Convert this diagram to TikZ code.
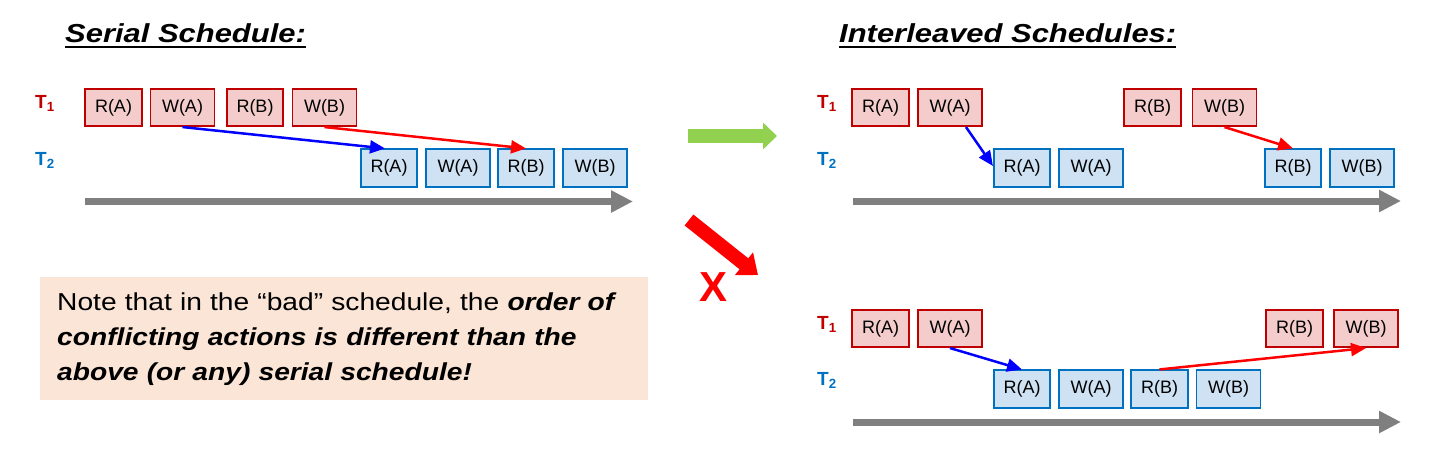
\documentclass[tikz,border=0pt]{standalone}
\usepackage{fontspec}
\setmainfont{Liberation Sans}
\newfontfamily\headfont[FakeStretch=1.19]{Liberation Sans}
\newfontfamily\notefont[FakeStretch=1.15]{Liberation Sans}
\usetikzlibrary{arrows.meta}
\definecolor{tonered}{RGB}{192,0,0}
\definecolor{tonefill}{RGB}{244,204,204}
\definecolor{ttwoblue}{RGB}{0,112,192}
\definecolor{ttwofill}{RGB}{207,226,243}
\definecolor{timegray}{RGB}{127,127,127}
\definecolor{notefill}{RGB}{251,229,214}
\definecolor{goodgreen}{RGB}{146,208,80}
\newcommand{\titleul}[1]{\leavevmode\setbox0=\hbox{#1}\rlap{\rule[-6pt]{\wd0}{1.6pt}}\box0}

\begin{document}
\begin{tikzpicture}[x=1pt,y=-1pt,
    act/.style={draw,line width=1.6pt,minimum height=37.5pt,inner sep=0pt,font=\fontsize{18}{20}\selectfont},
    rd/.style={act,minimum width=56.5pt},
    wr/.style={act,minimum width=64pt},
    tone/.style={draw=tonered,fill=tonefill},
    ttwo/.style={draw=ttwoblue,fill=ttwofill},
    tlab/.style={anchor=base west,inner sep=0pt,font=\fontsize{19}{21}\selectfont\bfseries},
    conf/.style={line width=2.5pt,-{Triangle[length=15pt,width=13pt]}},
    timeline/.style={timegray,line width=7pt,-{Triangle[length=22pt,width=21pt]}},
    heading/.style={anchor=base west,inner sep=0pt,font=\headfont\fontsize{26}{30}\selectfont\bfseries\itshape}]
  \useasboundingbox (0,0) rectangle (1448,448);

  % serial schedule
  \node[heading] (sertitle) at (65,42) {\titleul{Serial Schedule:}};
  \node[tlab,tonered] (serone) at (35,108) {T\textsubscript{1}};
  \node[tlab,ttwoblue] (sertwo) at (35,165) {T\textsubscript{2}};
  \node[rd,tone] (s1ra) at (113.5,107.5) {R(A)};
  \node[wr,tone] (s1wa) at (182.5,107.5) {W(A)};
  \node[rd,tone] (s1rb) at (255,107.5) {R(B)};
  \node[wr,tone] (s1wb) at (324.5,107.5) {W(B)};
  \node[rd,ttwo] (s2ra) at (389,168) {R(A)};
  \node[wr,ttwo] (s2wa) at (458,168) {W(A)};
  \node[rd,ttwo] (s2rb) at (526,168) {R(B)};
  \node[wr,ttwo] (s2wb) at (595,168) {W(B)};
  \draw[conf,blue] (s1wa.south) -- ([xshift=-4pt]s2ra.north);
  \draw[conf,red] (s1wb.south) -- (s2rb.north);
  \coordinate (sstart) at (85,201.5);
  \coordinate (send) at (633,201.5);
  \draw[timeline] (sstart) -- (send);

  % big arrows
  \coordinate (okfrom) at (688,136);
  \coordinate (okto) at (777,136);
  \draw[goodgreen,line width=14pt,-{Triangle[length=14pt,width=26pt]}] (okfrom) -- (okto);
  \coordinate (badfrom) at (689,220);
  \coordinate (badto) at (758,275);
  \draw[red,line width=14pt,-{Triangle[length=18pt,width=28pt]}] (badfrom) -- (badto);
  \node[red,font=\fontsize{42}{42}\selectfont\bfseries] (nox) at (713,287) {X};

  % note
  \node[fill=notefill,anchor=north west,minimum width=608pt,minimum height=123pt,inner xsep=17pt,
    text width=574pt,align=left,font=\notefont\fontsize{24.5}{35}\selectfont] (note) at (40,277)
    {Note that in the “bad” schedule, the \bfseries\itshape order of\\
     conflicting actions is different than the\\
     above (or any) serial schedule!};

  % interleaved, good
  \node[heading] (inttitle) at (839,42) {\titleul{Interleaved Schedules:}};
  \node[tlab,tonered] (goodone) at (817,108) {T\textsubscript{1}};
  \node[tlab,ttwoblue] (goodtwo) at (817,165) {T\textsubscript{2}};
  \node[rd,tone] (g1ra) at (880.5,107.5) {R(A)};
  \node[wr,tone] (g1wa) at (950,107.5) {W(A)};
  \node[rd,tone] (g1rb) at (1152.5,107.5) {R(B)};
  \node[wr,tone] (g1wb) at (1224.5,107.5) {W(B)};
  \node[rd,ttwo] (g2ra) at (1022,168) {R(A)};
  \node[wr,ttwo] (g2wa) at (1091,168) {W(A)};
  \node[rd,ttwo] (g2rb) at (1293,168) {R(B)};
  \node[wr,ttwo] (g2wb) at (1362,168) {W(B)};
  \draw[conf,blue] ([xshift=16pt]g1wa.south) -- ([yshift=2pt]g2ra.west);
  \draw[conf,red] (g1wb.south) -- (g2rb.north);
  \coordinate (gstart) at (853,201);
  \coordinate (gend) at (1401,201);
  \draw[timeline] (gstart) -- (gend);

  % interleaved, bad
  \node[tlab,tonered] (badone) at (817,329) {T\textsubscript{1}};
  \node[tlab,ttwoblue] (badtwo) at (817,385) {T\textsubscript{2}};
  \node[rd,tone] (b1ra) at (880.5,328.5) {R(A)};
  \node[wr,tone] (b1wa) at (950,328.5) {W(A)};
  \node[rd,tone] (b1rb) at (1294.5,328.5) {R(B)};
  \node[wr,tone] (b1wb) at (1366,328.5) {W(B)};
  \node[rd,ttwo] (b2ra) at (1022,389) {R(A)};
  \node[wr,ttwo] (b2wa) at (1091,389) {W(A)};
  \node[rd,ttwo] (b2rb) at (1159.5,389) {R(B)};
  \node[wr,ttwo] (b2wb) at (1228.5,389) {W(B)};
  \draw[conf,blue] (b1wa.south) -- (b2ra.north);
  \draw[conf,red] (b2rb.north) -- (b1wb.south);
  \coordinate (bstart) at (853,422);
  \coordinate (bend) at (1401,422);
  \draw[timeline] (bstart) -- (bend);
\end{tikzpicture}
\end{document}
